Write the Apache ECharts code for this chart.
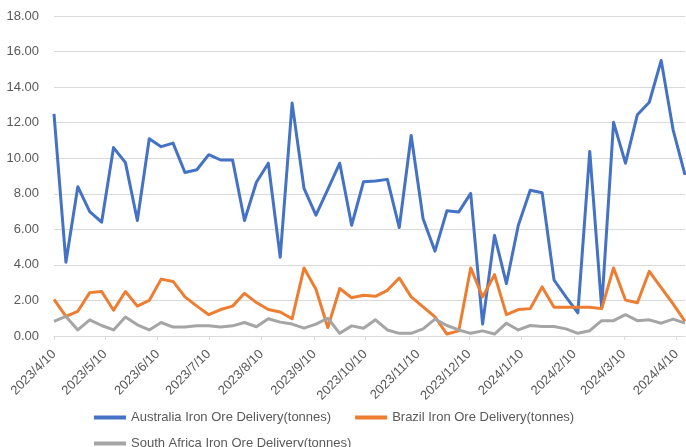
<!DOCTYPE html>
<html>
<head>
<meta charset="utf-8">
<script src="https://cdn.jsdelivr.net/npm/echarts@6/dist/echarts.min.js"></script>
<style>
html,body{margin:0;padding:0;background:#fff;}
#chart{width:686px;height:447px;}
</style>
</head>
<body>
<div id="chart"></div>
<script>
var dates = ['2023/4/10','2023/4/17','2023/4/24','2023/5/1','2023/5/8','2023/5/15','2023/5/22','2023/5/29',
'2023/6/5','2023/6/12','2023/6/19','2023/6/26','2023/7/3','2023/7/10','2023/7/17','2023/7/24','2023/7/31',
'2023/8/7','2023/8/14','2023/8/21','2023/8/28','2023/9/4','2023/9/11','2023/9/18','2023/9/25',
'2023/10/2','2023/10/9','2023/10/16','2023/10/23','2023/10/30','2023/11/6','2023/11/13','2023/11/20','2023/11/27',
'2023/12/4','2023/12/11','2023/12/18','2023/12/25','2024/1/1','2024/1/8','2024/1/15','2024/1/22','2024/1/29',
'2024/2/5','2024/2/12','2024/2/19','2024/2/26','2024/3/4','2024/3/11','2024/3/18','2024/3/25',
'2024/4/1','2024/4/8','2024/4/15'];

var australia = [12.5, 4.15, 8.4, 7.0, 6.4, 10.6, 9.75, 6.5, 11.1, 10.65, 10.85, 9.2, 9.35, 10.2, 9.9, 9.9, 6.5, 8.65,
9.72, 4.43, 13.1, 8.3, 6.8, 8.25, 9.72, 6.23, 8.68, 8.72, 8.81, 6.1, 11.28, 6.6, 4.77, 7.04, 6.98, 8.02, 0.67, 5.66,
2.95, 6.23, 8.2, 8.06, 3.15, 2.2, 1.3, 10.38, 1.6, 12.02, 9.72, 12.45, 13.15, 15.5, 11.6, 9.06];

var brazil = [2.06, 1.1, 1.39, 2.44, 2.5, 1.45, 2.5, 1.68, 2.0, 3.2, 3.07, 2.2, 1.68, 1.2, 1.49, 1.68, 2.4, 1.88,
1.49, 1.35, 0.97, 3.83, 2.63, 0.48, 2.67, 2.15, 2.29, 2.23, 2.57, 3.26, 2.2, 1.64, 1.07, 0.11, 0.29,
3.83, 2.2, 3.45, 1.2, 1.49, 1.54, 2.76, 1.62, 1.62, 1.62, 1.62, 1.54, 3.83, 2.02, 1.87, 3.64, 2.72, 1.81, 0.82];

var southAfrica = [0.82, 1.1, 0.34, 0.91, 0.59, 0.34, 1.07, 0.63, 0.34, 0.76, 0.5, 0.5, 0.57, 0.57, 0.51, 0.57, 0.76, 0.52,
0.97, 0.78, 0.67, 0.44, 0.67, 1.0, 0.15, 0.57, 0.44, 0.91, 0.34, 0.15, 0.15, 0.4, 0.95, 0.59, 0.34,
0.15, 0.29, 0.11, 0.72, 0.34, 0.59, 0.53, 0.53, 0.4, 0.15, 0.3, 0.86, 0.86, 1.2, 0.86, 0.91, 0.72, 0.95, 0.72];

var xTickLabels = ['2023/4/10','2023/5/10','2023/6/10','2023/7/10','2023/8/10','2023/9/10','2023/10/10',
'2023/11/10','2023/12/10','2024/1/10','2024/2/10','2024/3/10','2024/4/10'];

var seriesNames = ['Australia Iron Ore Delivery(tonnes)','Brazil Iron Ore Delivery(tonnes)','South Africa Iron Ore Delivery(tonnes)'];

var DAY = 86400000;
function dayNum(s){ var p = s.split('/'); return Math.round(Date.UTC(+p[0], +p[1]-1, +p[2]) / DAY); }
function pairs(vals){ return vals.map(function(v,i){ return [dayNum(dates[i]), v]; }); }
var tickValues = xTickLabels.map(dayNum);
function fmt(v){ var d = new Date(v * DAY); return d.getUTCFullYear() + '/' + (d.getUTCMonth()+1) + '/' + d.getUTCDate(); }

var FONT = 'Liberation Sans';
var TXT = '#595959';
var chart = echarts.init(document.getElementById('chart'), null, {renderer:'canvas'});
chart.setOption({
  animation: false,
  textStyle: {fontFamily: FONT},
  grid: {left: 54, right: 1, top: 16, bottom: 111, containLabel: false},
  xAxis: {
    type: 'value',
    min: dayNum(dates[0]),
    max: dayNum(dates[dates.length-1]),
    axisLine: {show: true, lineStyle: {color: '#d9d9d9', width: 1}},
    axisTick: {show: true, length: 4, lineStyle: {color: '#d9d9d9'}, customValues: tickValues},
    axisLabel: {customValues: tickValues, rotate: 45, margin: 16, color: TXT, fontSize: 13, fontFamily: FONT,
      formatter: function(v){ return fmt(v); }},
    splitLine: {show: false}
  },
  yAxis: {
    type: 'value', min: 0, max: 18, interval: 2,
    axisLine: {show: false}, axisTick: {show: false},
    axisLabel: {color: TXT, fontSize: 13, fontFamily: FONT, margin: 15, formatter: function(v){ return v.toFixed(2); }},
    splitLine: {lineStyle: {color: '#d9d9d9', width: 1}}
  },
  legend: [
    {data: [seriesNames[0], seriesNames[1]], left: 89, top: 406, icon: 'rect', itemWidth: 32, itemHeight: 4, itemGap: 24,
      textStyle: {color: TXT, fontSize: 13, fontFamily: FONT}},
    {data: [seriesNames[2]], left: 89, top: 432, icon: 'rect', itemWidth: 32, itemHeight: 4, itemGap: 24,
      textStyle: {color: TXT, fontSize: 13, fontFamily: FONT}}
  ],
  series: [
    {name: seriesNames[0], type: 'line', data: pairs(australia), showSymbol: false, symbol: 'none',
      lineStyle: {color: '#4472C4', width: 3, join: 'round'}, itemStyle: {color: '#4472C4'}},
    {name: seriesNames[1], type: 'line', data: pairs(brazil), showSymbol: false, symbol: 'none',
      lineStyle: {color: '#ED7D31', width: 3, join: 'round'}, itemStyle: {color: '#ED7D31'}},
    {name: seriesNames[2], type: 'line', data: pairs(southAfrica), showSymbol: false, symbol: 'none',
      lineStyle: {color: '#A5A5A5', width: 3, join: 'round'}, itemStyle: {color: '#A5A5A5'}}
  ]
});
</script>
</body>
</html>
